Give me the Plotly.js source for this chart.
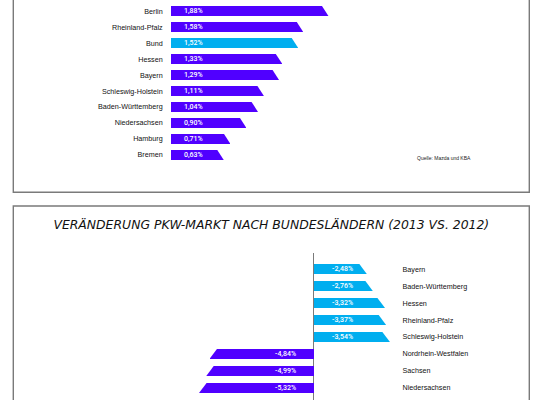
<!DOCTYPE html>
<html>
<head>
<meta charset="utf-8">
<script src="https://cdn.plot.ly/plotly-3.0.1.min.js"></script>
<style>html,body{margin:0;padding:0;background:#fff;}#chart{width:543px;height:400px;}</style>
</head>
<body>
<div id="chart"></div>
<script>
// ---- Data (top panel: Mazda market share by state) ----
const topStates = ['Sachsen', 'Berlin', 'Rheinland-Pfalz', 'Bund', 'Hessen', 'Bayern', 'Schleswig-Holstein', 'Baden-Württemberg', 'Niedersachsen', 'Hamburg', 'Bremen'];
const topValues = [1.92, 1.88, 1.58, 1.52, 1.33, 1.29, 1.11, 1.04, 0.90, 0.71, 0.63];
const topHighlight = 'Bund';

// ---- Data (bottom panel: change in car market 2013 vs 2012) ----
const upStates = ['Bayern', 'Baden-Württemberg', 'Hessen', 'Rheinland-Pfalz', 'Schleswig-Holstein'];
const upValues = [-2.48, -2.76, -3.32, -3.37, -3.54];
const downStates = ['Nordrhein-Westfalen', 'Sachsen', 'Niedersachsen', 'Berlin'];
const downValues = [-4.84, -4.99, -5.32, -5.45];

const title = 'VERÄNDERUNG PKW-MARKT NACH BUNDESLÄNDERN (2013 VS. 2012)';
const source = 'Quelle: Mazda und KBA';

// ---- Styling ----
const PURPLE = '#5000ff';
const CYAN = '#00aeef';
const LABEL_FONT = {family: 'Liberation Sans, Arial, sans-serif', size: 7.2, color: '#111111'};
const VALUE_FONT = {family: 'Roboto, Liberation Sans, Arial, sans-serif', size: 7, weight: 500, color: '#ffffff'};
const fmt = v => v.toFixed(2).replace('.', ',') + '%';

const W = 543, H = 400;
const px = x => x / W;           // page x pixel -> paper
const py = y => 1 - y / H;       // page y pixel -> paper

// top geometry
const topZero = 170.7, topScale = 84;      // px, px per %
const topW = 0.63, topSlant = 6.5 / topScale;
// bottom geometry
const botZero = 313.7, botScale = 21.5;
const botW = 0.59, botSlant = 7.5 / botScale;

const traces = [
  {
    type: 'bar', orientation: 'h', y: topStates, x: topValues,
    marker: {color: topStates.map(s => s === topHighlight ? CYAN : PURPLE), line: {width: 0}},
    width: topW, xaxis: 'x', yaxis: 'y', hoverinfo: 'none', showlegend: false
  },
  {
    type: 'bar', orientation: 'h', y: upStates, x: upValues.map(v => -v),
    marker: {color: CYAN, line: {width: 0}},
    width: botW, xaxis: 'x2', yaxis: 'y2', hoverinfo: 'none', showlegend: false
  },
  {
    type: 'bar', orientation: 'h', y: downStates, x: downValues,
    marker: {color: PURPLE, line: {width: 0}},
    width: botW, xaxis: 'x2', yaxis: 'y2', hoverinfo: 'none', showlegend: false
  }
];

const shapes = [];
const annotations = [];
const k = 0.12;

function cut(xref, yref, v, i, w, s, dir) {
  const yTop = i - w / 2, yBot = i + w / 2;
  const p1x = v - dir * s * (1 + k), p2x = v + dir * s * k;
  const yT = yTop - k * w, yB = yBot + k * w;
  shapes.push({
    type: 'path', xref: xref, yref: yref, layer: 'above',
    path: `M ${p1x} ${yT} L ${p2x} ${yT} L ${p2x} ${yB} Z`,
    fillcolor: '#ffffff', line: {width: 0}
  });
}

topStates.forEach((s, i) => {
  cut('x', 'y', topValues[i], i, topW, topSlant, 1);
  annotations.push({xref: 'x', yref: 'y', x: 0, y: s, text: fmt(topValues[i]), showarrow: false,
    xanchor: 'left', yanchor: 'middle', xshift: 11, font: VALUE_FONT});
});
const botCats = upStates.concat(downStates);
upStates.forEach((s, i) => {
  cut('x2', 'y2', -upValues[i], i, botW, botSlant, 1);
  annotations.push({xref: 'x2', yref: 'y2', x: 0, y: s, text: fmt(upValues[i]), showarrow: false,
    xanchor: 'left', yanchor: 'middle', xshift: 16, font: VALUE_FONT});
});
downStates.forEach((s, j) => {
  cut('x2', 'y2', downValues[j], upStates.length + j, botW, botSlant, -1);
  annotations.push({xref: 'x2', yref: 'y2', x: 0, y: s, text: fmt(downValues[j]), showarrow: false,
    xanchor: 'right', yanchor: 'middle', xshift: -15.5, font: VALUE_FONT});
});

// source note
annotations.push({xref: 'paper', yref: 'paper', x: px(415), y: py(158), text: source, showarrow: false,
  xanchor: 'left', yanchor: 'middle', font: {family: 'Liberation Sans, Arial, sans-serif', size: 5, color: '#222'}});

// panel frames
shapes.push({type: 'rect', xref: 'paper', yref: 'paper', x0: px(13.3), x1: px(529.3), y0: py(192.3), y1: py(-20),
  line: {color: '#7a7a7a', width: 1.4}, fillcolor: 'rgba(0,0,0,0)', layer: 'below'});
shapes.push({type: 'rect', xref: 'paper', yref: 'paper', x0: px(13.3), x1: px(529.3), y0: py(420), y1: py(206),
  line: {color: '#7a7a7a', width: 1.4}, fillcolor: 'rgba(0,0,0,0)', layer: 'below'});

// top axes: rows spaced 15.93px, index0 at y=-4.6px
const topRow = 15.93, topRow0 = -4.6, topBottomPx = 170;
// bottom axes: rows spaced 16.9px, index0 at y=269.3px
const botRow = 16.9, botRow0 = 269.3, botTopPx = 253.3;

const layout = {
  width: W, height: H,
  margin: {l: 0, r: 0, t: 0, b: 0, pad: 0},
  paper_bgcolor: '#ffffff', plot_bgcolor: 'rgba(0,0,0,0)',
  showlegend: false, bargap: 0,
  title: {text: title, x: px(271.3), xanchor: 'center', y: py(225), yanchor: 'middle', yref: 'container',
    font: {family: 'DejaVu Sans, sans-serif', size: 12.4, style: 'italic', color: '#111'}},
  xaxis: {domain: [px(topZero), 1], range: [0, (W - topZero) / topScale], anchor: 'y',
    showgrid: false, zeroline: false, showline: false, showticklabels: false, ticks: '', fixedrange: true},
  yaxis: {domain: [py(topBottomPx), 1], anchor: 'x', type: 'category',
    categoryorder: 'array', categoryarray: topStates,
    range: [(topBottomPx - topRow0) / topRow, (0 - topRow0) / topRow],
    showgrid: false, zeroline: false, showline: false, ticks: '', ticklabelstandoff: 7,
    tickfont: LABEL_FONT, fixedrange: true},
  xaxis2: {domain: [0, 1], range: [-botZero / botScale, (W - botZero) / botScale], anchor: 'y2',
    showgrid: false, zeroline: true, zerolinecolor: '#7a7a7a', zerolinewidth: 1.5,
    showline: false, showticklabels: false, ticks: '', fixedrange: true},
  yaxis2: {domain: [0, py(botTopPx)], anchor: 'free', position: px(401.5), side: 'right', type: 'category',
    categoryorder: 'array', categoryarray: botCats,
    range: [(H - botRow0) / botRow, (botTopPx - botRow0) / botRow],
    showgrid: false, zeroline: false, showline: false, ticks: '', ticklabelstandoff: 0,
    tickfont: LABEL_FONT, fixedrange: true},
  shapes: shapes,
  annotations: annotations
};

Plotly.newPlot('chart', traces, layout, {displayModeBar: false, staticPlot: true});
</script>
</body>
</html>
